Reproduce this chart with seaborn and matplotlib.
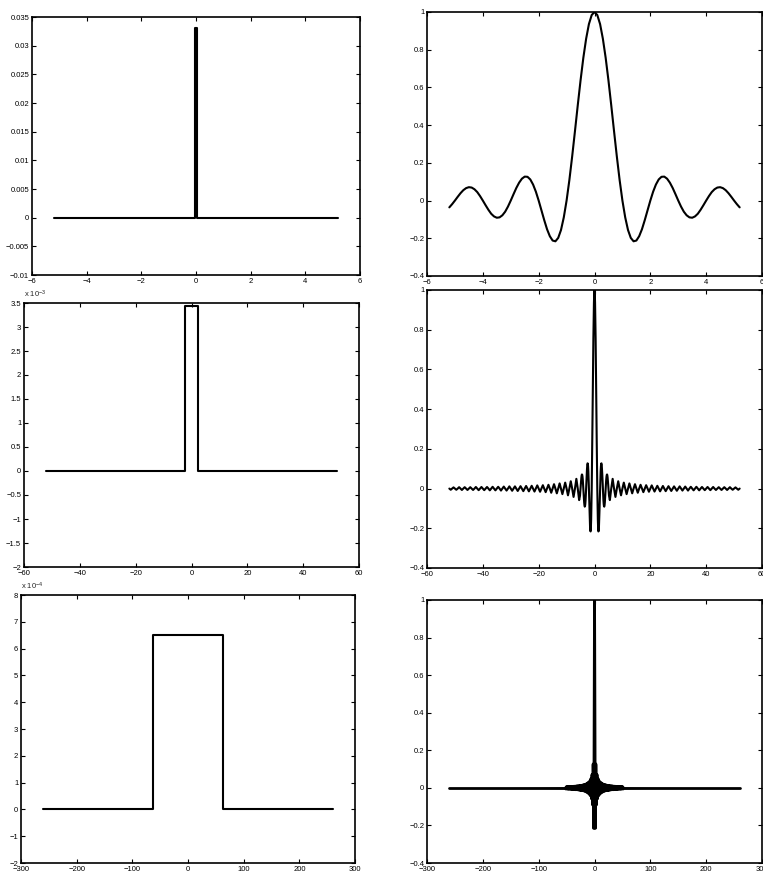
import numpy as np
import matplotlib
matplotlib.use("Agg")
import matplotlib.pyplot as plt
import seaborn as sns
from matplotlib.ticker import MultipleLocator, FuncFormatter

# ---------------- data ----------------
# left column: rectangular pulses
rect_half = [0.02, 2.5, 62]            # half width of each pulse
rect_height = [0.0331, 0.00344, 0.00065]
trace_half = [5.2, 52, 261]            # half length of the traces

# right column: sinc main part, x = 0 .. 5.2 (step 0.1), mirrored for x < 0
sinc_x = np.round(np.arange(0, 5.21, 0.1), 1)
sinc_y = [1.0, 0.984, 0.936, 0.858, 0.757, 0.637, 0.505, 0.368, 0.234, 0.109,
          0.0, -0.089, -0.156, -0.198, -0.216, -0.212, -0.189, -0.152, -0.104, -0.052,
          0.0, 0.047, 0.085, 0.112, 0.126, 0.127, 0.116, 0.095, 0.067, 0.034,
          0.0, -0.032, -0.059, -0.078, -0.089, -0.091, -0.084, -0.070, -0.049, -0.025,
          0.0, 0.024, 0.045, 0.060, 0.069, 0.071, 0.066, 0.055, 0.039, 0.020,
          0.0, -0.019, -0.036]

# side lobes beyond 5.2 (peak of every lobe, zeros in between)
lobe_x = np.arange(5.5, 52, 1.0)
lobe_peak = [-0.058, 0.049, -0.042, 0.037, -0.034, 0.030, -0.028, 0.026, -0.024, 0.022,
             -0.021, 0.019, -0.018, 0.017, -0.016, 0.016, -0.015, 0.014, -0.014, 0.013,
             -0.013, 0.012, -0.012, 0.011, -0.011, 0.011, -0.010, 0.010, -0.010, 0.009,
             -0.009, 0.009, -0.009, 0.008, -0.008, 0.008, -0.008, 0.008, -0.007, 0.007,
             -0.007, 0.007, -0.007, 0.007, -0.006, 0.006, -0.006]

# far tail of the widest sinc: only the envelope is visible
tail_x = np.array([52, 70, 100, 150, 200, 261])
tail_env = np.array([0.006, 0.0045, 0.0032, 0.0021, 0.0016, 0.0012])

xlims = [6, 60, 300]
xsteps = [2, 20, 100]


def mirror(x, y):
    x = np.asarray(x, float)
    y = np.asarray(y, float)
    return np.concatenate([-x[::-1], x[1:]]), np.concatenate([y[::-1], y[1:]])


def rect_trace(i):
    h, a, L = rect_half[i], rect_height[i], trace_half[i]
    return [-L, -h, -h, h, h, L], [0, 0, a, a, 0, 0]


def fmt(scale):
    def f(v, p):
        if abs(v) < 1e-12:
            return "0"
        return f"{round(v / scale, 6):g}".replace("-", "\u2212")
    return FuncFormatter(f)


# sinc with side lobes
lobe_pts_x = np.ravel(np.column_stack([lobe_x, lobe_x + 0.5]))
lobe_pts_y = np.ravel(np.column_stack([lobe_peak, np.zeros(len(lobe_peak))]))
wide_x, wide_y = mirror(np.concatenate([sinc_x, lobe_pts_x]),
                        np.concatenate([sinc_y, lobe_pts_y]))
narrow_x, narrow_y = mirror(sinc_x, sinc_y)

# ---------------- plot ----------------
sns.set_style("ticks")
plt.rcParams["font.family"] = ["Liberation Sans", "DejaVu Sans"]
plt.rcParams["mathtext.default"] = "regular"

W, H = 763, 874
fig = plt.figure(figsize=(W / 100, H / 100), dpi=100)


def add(l, t, r, b):
    return fig.add_axes([l / W, 1 - b / H, (r - l) / W, (b - t) / H])


boxes = [(32, 17, 360, 275), (427, 12, 762, 276),
         (24, 303, 359, 567), (427, 290, 762, 568),
         (21, 595, 355, 863), (427, 600, 762, 863)]

ylims_left = [(-0.01, 0.035, 0.005, 1), (-0.002, 0.0035, 0.0005, 1e-3), (-0.0002, 0.0008, 0.0001, 1e-4)]
offsets = [None, r"x 10$^{-3}$", r"x 10$^{-4}$"]

for row in range(3):
    axl = add(*boxes[2 * row])
    axr = add(*boxes[2 * row + 1])

    # left: rect pulse
    rx, ry = rect_trace(row)
    sns.lineplot(x=rx, y=ry, ax=axl, color="k", lw=1.5, sort=False, estimator=None)
    lo, hi, st, sc = ylims_left[row]
    axl.set_ylim(lo, hi)
    axl.yaxis.set_major_locator(MultipleLocator(st))
    axl.yaxis.set_major_formatter(fmt(sc))
    if offsets[row]:
        axl.text(0.0, 1.012, offsets[row], transform=axl.transAxes,
                 ha="left", va="bottom", fontsize=5.5)

    # right: sinc
    if row == 0:
        sns.lineplot(x=narrow_x, y=narrow_y, ax=axr, color="k", lw=1.5, sort=False, estimator=None)
    elif row == 1:
        sns.lineplot(x=wide_x, y=wide_y, ax=axr, color="k", lw=1.5, sort=False, estimator=None)
    else:
        sns.lineplot(x=wide_x, y=wide_y, ax=axr, color="k", lw=2.0, sort=False, estimator=None)
        for s in (1, -1):
            axr.fill_between(s * tail_x, -tail_env, tail_env, color="k", lw=0)
            sns.lineplot(x=s * tail_x, y=np.zeros(len(tail_x)), ax=axr, color="k",
                         lw=2.0, sort=False, estimator=None)
    axr.set_ylim(-0.4, 1)
    axr.yaxis.set_major_locator(MultipleLocator(0.2))
    axr.yaxis.set_major_formatter(fmt(1))

    for ax in (axl, axr):
        ax.set_xlim(-xlims[row], xlims[row])
        ax.xaxis.set_major_locator(MultipleLocator(xsteps[row]))
        ax.xaxis.set_major_formatter(fmt(1))
        ax.set_xlabel("")
        ax.set_ylabel("")
        ax.tick_params(direction="in", top=True, right=True, length=3, width=0.8,
                       labelsize=5.5, pad=2, colors="k")
        for sp in ax.spines.values():
            sp.set_visible(True)
            sp.set_linewidth(1.2)
            sp.set_color("k")

fig.savefig("out.png", dpi=100)
